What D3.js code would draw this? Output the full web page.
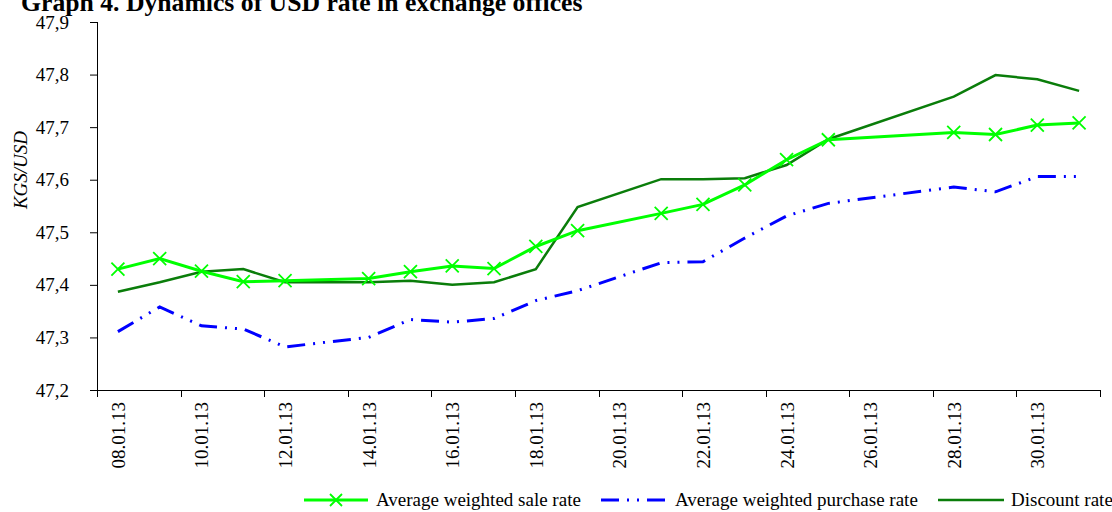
<!DOCTYPE html>
<html>
<head>
<meta charset="utf-8">
<script src="https://cdn.jsdelivr.net/npm/d3@7"></script>
<style>
  body { margin: 0; background: #fff; }
  svg { display: block; font-family: "Liberation Serif", "Times New Roman", serif; }
</style>
</head>
<body>
<svg id="chart" width="1112" height="512"></svg>
<script>
// Trading days of January 2013 (every calendar day is a category; null = no quote)
const days = ["08.01.13","09.01.13","10.01.13","11.01.13","12.01.13","13.01.13","14.01.13","15.01.13",
              "16.01.13","17.01.13","18.01.13","19.01.13","20.01.13","21.01.13","22.01.13","23.01.13",
              "24.01.13","25.01.13","26.01.13","27.01.13","28.01.13","29.01.13","30.01.13","31.01.13"];

const saleRate     = [47.430,47.450,47.426,47.406,47.408,null,47.412,47.425,47.436,47.431,47.473,47.503,
                      null,47.536,47.553,47.590,47.638,47.676,null,null,47.690,47.686,47.704,47.708];
const purchaseRate = [47.311,47.358,47.322,47.316,47.282,null,47.300,47.334,47.329,47.336,47.370,47.389,
                      null,47.442,47.444,47.489,47.531,47.555,null,null,47.586,47.577,47.606,47.606];
const discountRate = [47.387,47.405,47.425,47.430,47.405,null,47.405,47.408,47.400,47.405,47.430,47.548,
                      null,47.601,47.601,47.603,47.628,47.677,null,null,47.758,47.799,47.791,47.769];

const yTicks = [47.2,47.3,47.4,47.5,47.6,47.7,47.8,47.9];
const xLabelDays = days.filter((d, i) => i % 2 === 0);

const seriesNames = ["Average weighted sale rate","Average weighted purchase rate","Discount rate"];
const colSale = "#00ff00", colPurchase = "#0000ff", colDiscount = "#0a7d0a";
const dashPurchase = "18 8 2 8 2 8";

const svg = d3.select("#chart");
const plotLeft = 97, plotRight = 1100, plotTop = 22, plotBottom = 390;

const x = d3.scaleBand().domain(days).range([plotLeft, plotRight]).padding(0);
const y = d3.scaleLinear().domain([47.2, 47.9]).range([plotBottom, plotTop]);
const cx = d => x(d) + x.bandwidth() / 2;

// Title (sits at the very top edge of the figure)
svg.append("text").attr("x", 21).attr("y", 11)
  .attr("font-size", 25.7).attr("font-weight", "bold")
  .text("Graph 4. Dynamics of USD rate in exchange offices");

// Y axis
const yAxis = svg.append("g").attr("transform", `translate(${plotLeft},0)`)
  .call(d3.axisLeft(y).tickValues(yTicks).tickSize(7).tickPadding(21)
        .tickFormat(v => d3.format(".1f")(v).replace(".", ",")));
yAxis.selectAll("text").attr("font-size", 19).attr("font-family", "Liberation Serif").attr("fill", "#000");
yAxis.selectAll("line,path").attr("stroke", "#000");
yAxis.select(".domain").attr("d", `M0.5,${plotTop}V${plotBottom}`);

// X axis: ticks every second category boundary, labels on every second day
const boundaries = d3.range(0, days.length + 1, 2).map(i => i < days.length ? x(days[i]) : plotRight);
const xg = svg.append("g");
xg.append("line").attr("x1", plotLeft - 7).attr("x2", plotRight).attr("y1", plotBottom + 0.5).attr("y2", plotBottom + 0.5)
  .attr("stroke", "#000");
xg.selectAll("line.tk").data(boundaries).join("line").attr("class", "tk")
  .attr("x1", d => Math.round(d) + 0.5).attr("x2", d => Math.round(d) + 0.5)
  .attr("y1", plotBottom).attr("y2", plotBottom + 7).attr("stroke", "#000");
xg.selectAll("text").data(xLabelDays).join("text")
  .attr("transform", d => `translate(${cx(d) + 7},${plotBottom + 12}) rotate(-90)`)
  .attr("text-anchor", "end").attr("font-size", 19).text(d => d);

// Y axis title
svg.append("text").attr("transform", "translate(27,170) rotate(-90)")
  .attr("text-anchor", "middle").attr("font-size", 19).attr("font-style", "italic")
  .text("KGS/USD");

// Lines
const pts = vals => days.map((d, i) => ({ d, v: vals[i] })).filter(p => p.v !== null);
const line = d3.line().x(p => cx(p.d)).y(p => y(p.v));

svg.append("path").datum(pts(purchaseRate)).attr("d", line)
  .attr("fill", "none").attr("stroke", colPurchase).attr("stroke-width", 3)
  .attr("stroke-dasharray", dashPurchase);
svg.append("path").datum(pts(discountRate)).attr("d", line)
  .attr("fill", "none").attr("stroke", colDiscount).attr("stroke-width", 2.5);
svg.append("path").datum(pts(saleRate)).attr("d", line)
  .attr("fill", "none").attr("stroke", colSale).attr("stroke-width", 3);

const cross = (g, px, py, s) => {
  g.append("path").attr("d", `M${px - s},${py - s}L${px + s},${py + s}M${px - s},${py + s}L${px + s},${py - s}`)
    .attr("stroke", colSale).attr("stroke-width", 1.8).attr("fill", "none");
};
const markers = svg.append("g");
pts(saleRate).forEach(p => cross(markers, cx(p.d), y(p.v), 6.5));

// Legend
const ly = 500;
const legend = svg.append("g").attr("font-size", 19);
const items = [
  { x1: 304, x2: 368, tx: 376, color: colSale, dash: null, w: 3, marker: true },
  { x1: 601, x2: 667, tx: 675, color: colPurchase, dash: dashPurchase, w: 3, marker: false },
  { x1: 938, x2: 1004, tx: 1011, color: colDiscount, dash: null, w: 2.5, marker: false }
];
items.forEach((it, i) => {
  legend.append("line").attr("x1", it.x1).attr("x2", it.x2).attr("y1", ly).attr("y2", ly)
    .attr("stroke", it.color).attr("stroke-width", it.w).attr("stroke-dasharray", it.dash);
  if (it.marker) cross(legend, (it.x1 + it.x2) / 2, ly, 6);
  legend.append("text").attr("x", it.tx).attr("y", ly + 6).text(seriesNames[i]);
});
</script>
</body>
</html>
